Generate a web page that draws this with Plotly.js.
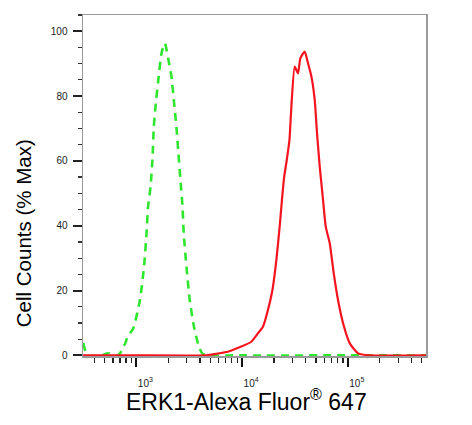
<!DOCTYPE html>
<html>
<head>
<meta charset="utf-8">
<script src="https://cdn.plot.ly/plotly-3.0.1.min.js"></script>
<style>html,body{margin:0;padding:0;background:#fff;}#chart{width:472px;height:425px;}</style>
</head>
<body>
<div id="chart"></div>
<script>
// Isotype control (green dashed)
const controlX = [315, 344, 470, 524, 604, 650, 698, 750, 780, 826, 933, 1079, 1178, 1247, 1291, 1361, 1422, 1462, 1528, 1607, 1730, 1858, 1995, 2148, 2259, 2393, 2500, 2612, 2729, 2805, 2979, 3199, 3508, 3908, 4266, 10000, 100000, 550000];
const controlY = [3.8, 0, 0, 0.6, 0.6, 0, 0.5, 2.7, 3.5, 5.7, 8.3, 17, 27, 37.6, 46, 52, 61, 70.5, 77.8, 84.5, 93.2, 96.3, 91.7, 86, 78.8, 70.5, 62.3, 54, 46, 37.6, 27.3, 17, 8.8, 2.7, 0.4, 0, 0, 0];
// ERK1 stained sample (red)
const sampleX = [313, 1000, 4418, 5485, 7330, 9826, 12220, 14120, 15750, 17560, 19330, 21100, 22680, 23840, 25000, 26530, 28070, 29270, 31450, 33810, 35620, 39120, 42050, 45290, 48670, 51170, 54290, 58320, 61870, 67510, 73670, 80910, 90270, 104470, 125200, 161660, 550000];
const sampleY = [0, 0, 0, 0.4, 1.1, 2.7, 4.2, 6.8, 8.8, 14, 20, 29.4, 39.7, 48, 55, 60.5, 66.5, 76.7, 89.1, 87, 91.7, 93.7, 90.1, 86, 78.8, 68.5, 58.2, 48, 39.7, 34.6, 25.3, 17, 9.9, 3.7, 0.6, 0, 0];
const xTickVals = [1000, 10000, 100000];
const xTickText = ['10<sup>3</sup>', '10<sup>4</sup>', '10<sup>5</sup>'];
const yTickVals = [0, 20, 40, 60, 80, 100];
const xTitle = 'ERK1-Alexa Fluor<sup>®</sup> 647';
const yTitle = 'Cell Counts (% Max)';

const minorX = [];
for (let e = 2; e <= 5; e++) for (let d = 2; d <= 9; d++) minorX.push(d * Math.pow(10, e));

const font = 'Liberation Sans, Arial, sans-serif';
const traces = [
  {x: controlX, y: controlY, type: 'scatter', mode: 'lines',
   line: {color: '#2ee62e', width: 2.6, dash: '8px,6px', shape: 'spline', smoothing: 0.6}, hoverinfo: 'skip'},
  {x: sampleX, y: sampleY, type: 'scatter', mode: 'lines',
   line: {color: '#f5141e', width: 2.2, shape: 'spline', smoothing: 0.5}, hoverinfo: 'skip'}
];
const layout = {
  width: 472, height: 425,
  margin: {l: 83, r: 46, t: 15, b: 69},
  paper_bgcolor: '#fff', plot_bgcolor: '#fff',
  showlegend: false,
  font: {family: font, color: '#111'},
  xaxis: {
    type: 'log', range: [2.495, 5.74],
    tickmode: 'array', tickvals: xTickVals, ticktext: xTickText,
    ticks: 'outside', ticklen: 9, tickwidth: 2, tickcolor: '#111',
    ticklabelshift: 9, ticklabelstandoff: 8,
    tickfont: {size: 10, family: font, color: '#222'},
    minor: {tickmode: 'array', tickvals: minorX, ticks: 'outside', ticklen: 5, tickwidth: 1.3, tickcolor: '#222'},
    showline: true, linecolor: '#9a9a9a', linewidth: 1.5, mirror: true,
    showgrid: false, zeroline: false
  },
  yaxis: {
    range: [-0.2, 105],
    tickmode: 'array', tickvals: yTickVals,
    ticks: 'outside', ticklen: 9, tickwidth: 2, tickcolor: '#222',
    tickfont: {size: 10, family: font, color: '#222'},
    ticklabelstandoff: 3,
    minor: {dtick: 5, ticks: 'outside', ticklen: 4, tickwidth: 1.2, tickcolor: '#333'},
    showline: true, linecolor: '#9a9a9a', linewidth: 1.5, mirror: true,
    showgrid: false, zeroline: false
  },
  annotations: [
    {text: yTitle, xref: 'paper', yref: 'paper', x: -0.175, y: 0.36, xanchor: 'center', yanchor: 'middle',
     textangle: -90, showarrow: false, font: {size: 20.5, family: font, color: '#000'}},
    {text: xTitle, xref: 'paper', yref: 'paper', x: 0.4767, y: -0.128, xanchor: 'center', yanchor: 'middle',
     showarrow: false, font: {size: 23, family: font, color: '#000'}}
  ]
};
Plotly.newPlot('chart', traces, layout, {staticPlot: true, displayModeBar: false});
</script>
</body>
</html>
